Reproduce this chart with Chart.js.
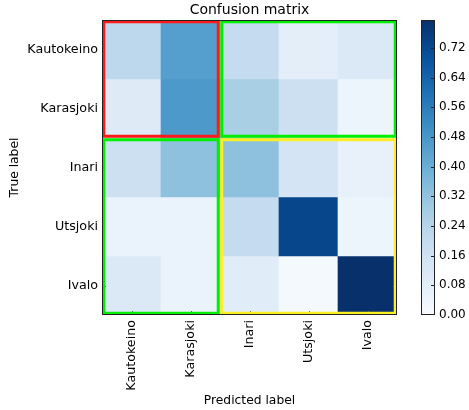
<!DOCTYPE html>
<html><head><meta charset="utf-8">
<script src="https://cdn.jsdelivr.net/npm/chart.js@4.4.0/dist/chart.umd.min.js"></script>
<style>
html,body{margin:0;padding:0;background:#fff;overflow:hidden}
#wrap{position:relative;width:469px;height:410px}
#main{position:absolute;left:0;top:0}
#cbar{position:absolute;left:410px;top:0}
</style></head><body>
<div id="wrap"><canvas id="main" width="469" height="410"></canvas><canvas id="cbar" width="59" height="410"></canvas></div>
<script>
// ---- data ----
const predictedLabels = ['Kautokeino', 'Karasjoki', 'Inari', 'Utsjoki', 'Ivalo'];
const trueLabels = ['Kautokeino', 'Karasjoki', 'Inari', 'Utsjoki', 'Ivalo'];
const rowKautokeino = [0.22, 0.45, 0.20, 0.08, 0.11];
const rowKarasjoki  = [0.10, 0.47, 0.27, 0.17, 0.04];
const rowInari      = [0.17, 0.33, 0.33, 0.14, 0.06];
const rowUtsjoki    = [0.05, 0.05, 0.20, 0.73, 0.04];
const rowIvalo      = [0.11, 0.05, 0.09, 0.01, 0.795];
const matrixRows = [rowKautokeino, rowKarasjoki, rowInari, rowUtsjoki, rowIvalo];
const colorbarTicks = [0.00, 0.08, 0.16, 0.24, 0.32, 0.40, 0.48, 0.56, 0.64, 0.72];
// highlighted groups: [first col, last col, first row, last row]
const groupRed    = [0, 1, 0, 1];
const groupGreenA = [2, 4, 0, 1];
const groupGreenB = [0, 1, 2, 4];
const groupYellow = [2, 4, 2, 4];

// ---- styling ----
const FONT = 'DejaVu Sans';
Chart.defaults.font.family = FONT;
Chart.defaults.color = '#000';
const BLUES = ['#f7fbff','#deebf7','#c6dbef','#9ecae1','#6baed6','#4292c6','#2171b5','#08519c','#08306b'];
function hex(h){return [1,3,5].map(i=>parseInt(h.substr(i,2),16));}
function blues(t){
  t = Math.max(0, Math.min(1, t));
  const p = t * 8, i = Math.min(7, Math.floor(p)), f = p - i;
  const a = hex(BLUES[i]), b = hex(BLUES[i+1]);
  const c = a.map((v,k)=>Math.round(v + (b[k]-v)*f));
  return `rgb(${c[0]},${c[1]},${c[2]})`;
}
const vmax = Math.max(...matrixRows.flat());

const framePlugin = {
  id: 'frame',
  afterDatasetsDraw(chart){
    const {ctx, chartArea: a} = chart;
    ctx.save();
    ctx.strokeStyle = '#222';
    ctx.lineWidth = 1;
    ctx.strokeRect(Math.round(a.left) + 0.5, Math.round(a.top) + 0.5,
                   Math.round(a.right - a.left) - 1, Math.round(a.bottom - a.top) - 1);
    ctx.restore();
  }
};

// small inward tick marks drawn from the scales' own tick positions
function drawInwardTicks(chart, sides, len, color){
  const {ctx, chartArea: a} = chart;
  ctx.save();
  ctx.strokeStyle = color;
  ctx.lineWidth = 1;
  ctx.beginPath();
  if (sides.x) {
    const sx = chart.scales.x;
    sx.ticks.forEach((_, i) => {
      const p = Math.round(sx.getPixelForTick(i)) + 0.5;
      ctx.moveTo(p, a.top); ctx.lineTo(p, a.top + len);
      ctx.moveTo(p, a.bottom); ctx.lineTo(p, a.bottom - len);
    });
  }
  const sy = chart.scales.y;
  sy.ticks.forEach((_, i) => {
    const p = Math.round(sy.getPixelForTick(i)) + 0.5;
    if (p < a.top + 2 || p > a.bottom - 2) return;
    if (sides.left) { ctx.moveTo(a.left, p); ctx.lineTo(a.left + len, p); }
    if (sides.right) { ctx.moveTo(a.right, p); ctx.lineTo(a.right - len, p); }
  });
  ctx.stroke();
  ctx.restore();
}

// ---- cells ----
const cellSets = matrixRows.map((row, r) => ({
  type: 'bar',
  xAxisID: 'x', yAxisID: 'y',
  data: row.map(() => [r - 0.5, r + 0.5]),
  backgroundColor: row.map(v => blues(v / vmax)),
  borderWidth: 0,
  barPercentage: 1, categoryPercentage: 1,
  grouped: false,
  order: 2
}));

// ---- group boxes ----
const inset = 0.03;
function box(g, color){
  const x0 = g[0] - 0.5 + inset, x1 = g[1] + 0.5 - inset;
  const y0 = g[2] - 0.5 + inset, y1 = g[3] + 0.5 - inset;
  return {
    type: 'line', xAxisID: 'x2', yAxisID: 'y',
    data: [{x:x0,y:y0},{x:x1,y:y0},{x:x1,y:y1},{x:x0,y:y1},{x:x0,y:y0}],
    borderColor: color, borderWidth: 3, pointRadius: 0, fill: false, tension: 0,
    borderJoinStyle: 'miter', borderCapStyle: 'square', order: 1
  };
}
const boxSets = [box(groupRed, '#ff1a1a'), box(groupGreenA, '#00ee00'), box(groupGreenB, '#00ee00'), box(groupYellow, '#ffee22')];

const mainTicksPlugin = {
  id: 'mainTicks',
  afterDatasetDraw(chart, args){
    if (args.index === cellSets.length - 1) drawInwardTicks(chart, {x:true, left:true, right:true}, 4, '#555');
  }
};

new Chart(document.getElementById('main'), {
  type: 'bar',
  data: { labels: predictedLabels, datasets: [...cellSets, ...boxSets] },
  options: {
    responsive: false, animation: false,
    layout: { padding: { left: 0, right: 72, top: 0, bottom: 0 } },
    plugins: {
      legend: { display: false }, tooltip: { enabled: false },
      title: { display: true, text: 'Confusion matrix', fullSize: false,
               font: { size: 14, weight: 'normal' }, color: '#000', padding: { top: 1.5, bottom: 1.7 } }
    },
    scales: {
      x: {
        type: 'category', labels: predictedLabels, offset: true,
        grid: { display: false, drawTicks: false }, border: { display: false },
        ticks: { minRotation: 90, maxRotation: 90, autoSkip: false, padding: 5, font: { size: 12.7 }, color: '#000' },
        title: { display: true, text: 'Predicted label', font: { size: 12.3 }, color: '#000', padding: { top: 0, bottom: 2 } },
        afterFit(s){ s.height = 95; }
      },
      x2: { type: 'linear', display: false, offset: false, min: -0.5, max: 4.5 },
      y: {
        type: 'linear', reverse: true, min: -0.5, max: 4.5,
        afterBuildTicks(s){ s.ticks = trueLabels.map((_, i) => ({ value: i })); },
        ticks: { callback: v => trueLabels[v], padding: 4, font: { size: 12.7 }, color: '#000' },
        grid: { display: false, drawTicks: false }, border: { display: false },
        title: { display: true, text: 'True label', font: { size: 12.3 }, color: '#000', padding: { top: 7, bottom: 0 } },
        afterFit(s){ s.width = 102; }
      }
    }
  },
  plugins: [mainTicksPlugin, framePlugin]
});

// ---- colorbar ----
const cbarTicksPlugin = {
  id: 'cbarTicks',
  afterDatasetsDraw(chart){ drawInwardTicks(chart, {right:true}, 4, '#222'); }
};

new Chart(document.getElementById('cbar'), {
  type: 'bar',
  data: { labels: [''], datasets: [{
    data: [[0, vmax]],
    backgroundColor: c => {
      const a = c.chart.chartArea;
      if (!a) return blues(0.5);
      const g = c.chart.ctx.createLinearGradient(0, a.bottom, 0, a.top);
      BLUES.forEach((s, i) => g.addColorStop(i / 8, s));
      return g;
    },
    borderWidth: 0, barPercentage: 1, categoryPercentage: 1
  }] },
  options: {
    responsive: false, animation: false,
    layout: { padding: { left: 11, top: 20, bottom: 95, right: 0 } },
    plugins: { legend: { display: false }, tooltip: { enabled: false } },
    scales: {
      x: { display: false },
      y: {
        position: 'right', min: 0, max: vmax,
        afterBuildTicks(s){ s.ticks = colorbarTicks.map(v => ({ value: v })); },
        ticks: { callback: v => v.toFixed(2), padding: 4, font: { size: 12 }, color: '#000' },
        grid: { display: false, drawTicks: false }, border: { display: false },
        afterFit(s){ s.width = 34; }
      }
    }
  },
  plugins: [cbarTicksPlugin, framePlugin]
});
</script>
</body></html>
